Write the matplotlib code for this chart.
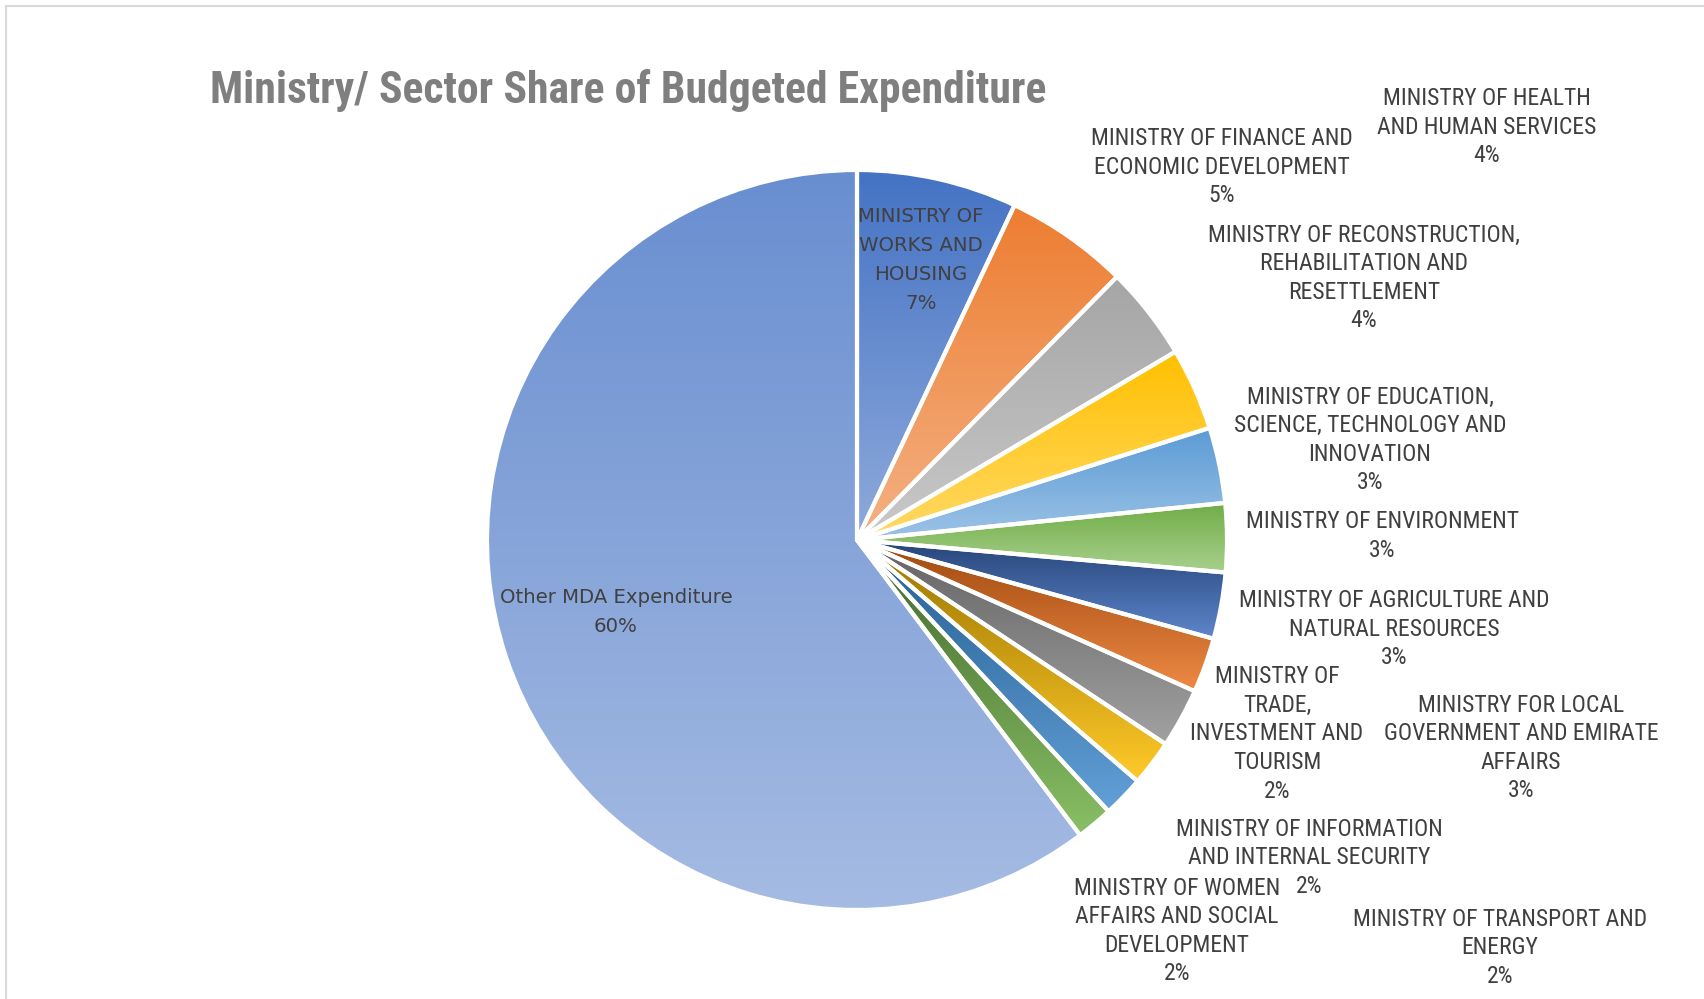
import colorsys
import matplotlib
matplotlib.use("Agg")
import matplotlib.pyplot as plt
import numpy as np
from matplotlib import font_manager
from matplotlib.colors import to_rgb
from matplotlib.lines import Line2D

# Budget shares by ministry (percent of total), clockwise from 12 o'clock
ministries = [
    "MINISTRY OF\nWORKS AND\nHOUSING",
    "MINISTRY OF FINANCE AND\nECONOMIC DEVELOPMENT",
    "MINISTRY OF HEALTH\nAND HUMAN SERVICES",
    "MINISTRY OF RECONSTRUCTION,\nREHABILITATION AND\nRESETTLEMENT",
    "MINISTRY OF EDUCATION,\nSCIENCE, TECHNOLOGY AND\nINNOVATION",
    "MINISTRY OF ENVIRONMENT",
    "MINISTRY OF AGRICULTURE AND\nNATURAL RESOURCES",
    "MINISTRY OF\nTRADE,\nINVESTMENT AND\nTOURISM",
    "MINISTRY FOR LOCAL\nGOVERNMENT AND EMIRATE\nAFFAIRS",
    "MINISTRY OF INFORMATION\nAND INTERNAL SECURITY",
    "MINISTRY OF TRANSPORT AND\nENERGY",
    "MINISTRY OF WOMEN\nAFFAIRS AND SOCIAL\nDEVELOPMENT",
    "Other MDA Expenditure",
]
shares = [7.0, 5.4, 4.1, 3.6, 3.3, 3.0, 2.9, 2.4, 2.6, 2.0, 1.8, 1.6, 60.3]

colors = ["#4472C4", "#ED7D31", "#A5A5A5", "#FFC000", "#5B9BD5", "#70AD47",
          "#264478", "#9E480E", "#636363", "#997300", "#255E91", "#43682B",
          "#698ED0"]

# label block centres in pixels (x from left, y from top)
label_pos = [(921, 260), (1222, 167), (1487, 127), (1364, 278), (1370, 440),
             (1382, 536), (1394, 629), (1277, 734), (1521, 748), (1309, 858),
             (1500, 948), (1177, 931), (616, 612)]

W, H = 1704, 999


def pick_font(names):
    have = {f.name for f in font_manager.fontManager.ttflist}
    for n in names:
        if n in have:
            return n
    return "DejaVu Sans"


narrow = pick_font(["Liberation Sans Narrow", "Roboto Condensed", "Open Sans Condensed", "Liberation Sans"])


def lighter(c, amount=0.4):
    h, l, s = colorsys.rgb_to_hls(*to_rgb(c))
    l = l + (1 - l) * amount
    return np.array(colorsys.hls_to_rgb(h, l, s))


fig = plt.figure(figsize=(W / 100, H / 100), dpi=100)
# chart area frame: only the top and left edges fall inside the image
frame = dict(transform=fig.transFigure, color="#d9d9d9", linewidth=1.5)
fig.lines.append(Line2D([6 / W, 1], [1 - 6 / H, 1 - 6 / H], **frame))
fig.lines.append(Line2D([6 / W, 6 / W], [0, 1 - 6 / H], **frame))

cx, cy, r = 857, 540, 370
ax = fig.add_axes([(cx - r) / W, (H - cy - r) / H, 2 * r / W, 2 * r / H])

wedges, _ = ax.pie(shares, startangle=90, counterclock=False, radius=1,
                   wedgeprops=dict(edgecolor="white", linewidth=3))

# vertical gradient in each slice: base colour at top, lighter tint at bottom
t = np.linspace(0, 1, 256)[:, None]
for w, c in zip(wedges, colors):
    top = np.array(to_rgb(c))
    bot = lighter(c)
    grad = (top[None, :] * (1 - t) + bot[None, :] * t)[:, None, :]
    ext = w.get_path().get_extents()
    im = ax.imshow(grad, extent=[ext.x0, ext.x1, ext.y0, ext.y1], origin="upper",
                   aspect="auto", zorder=1, interpolation="bilinear")
    im.set_clip_path(w)
    w.set_facecolor("none")
    w.set_zorder(2)

ax.set_xlim(-1, 1)
ax.set_ylim(-1, 1)
ax.axis("off")

total = sum(shares)
for i, (name, val, (lx, ly)) in enumerate(zip(ministries, shares, label_pos)):
    pct = f"{round(val / total * 100):.0f}%"
    inside = i in (0, len(shares) - 1)
    fig.text(lx / W, 1 - ly / H, f"{name}\n{pct}", ha="center", va="center",
             color="#404040", fontsize=14.2 if inside else 17,
             family="DejaVu Sans" if inside else narrow,
             linespacing=1.66 if inside else 1.31)

fig.text(628 / W, 1 - 91 / H, "Ministry/ Sector Share of Budgeted Expenditure",
         ha="center", va="center", color="#7f7f7f", fontsize=31.5, fontweight="bold",
         family=narrow)

fig.savefig("out.png", dpi=100)
